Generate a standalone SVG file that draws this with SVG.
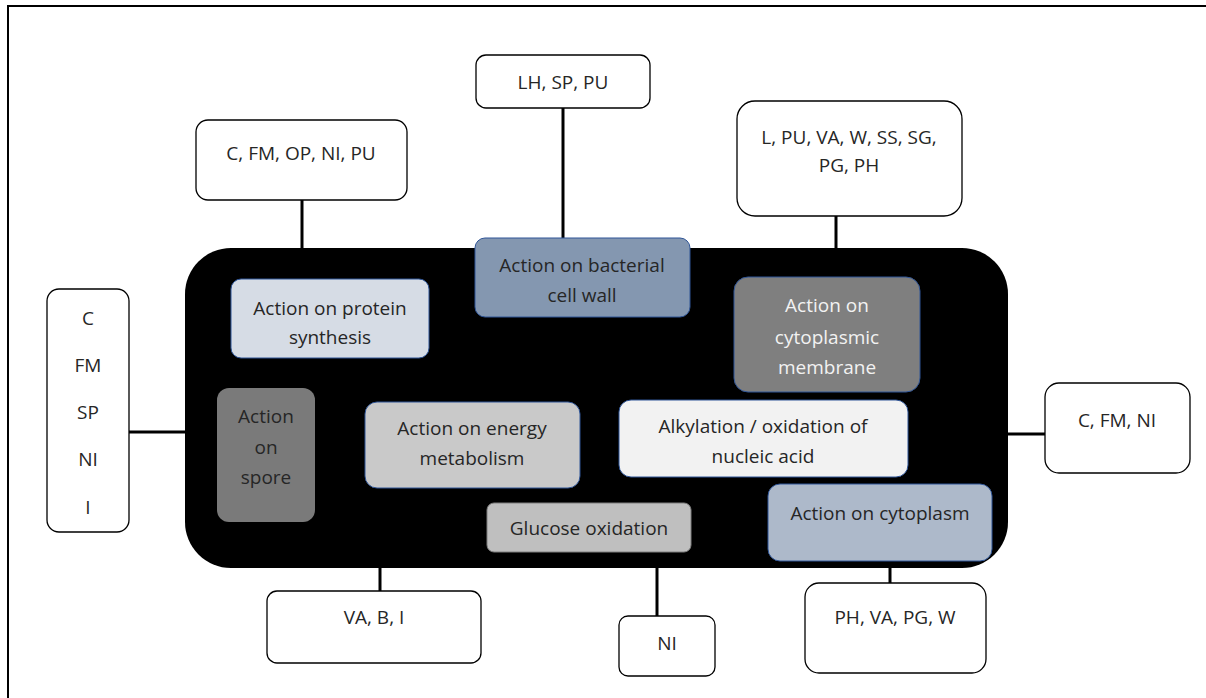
<svg xmlns="http://www.w3.org/2000/svg" width="1206" height="698" viewBox="0 0 1206 698">
<style>
text{font-family:"Open Sans","Liberation Sans",sans-serif;font-size:19px;fill:#262626;text-anchor:middle;dominant-baseline:central}
.out rect{fill:#fff;stroke:#000;stroke-width:1.3}
.in rect{stroke:#2f5597;stroke-width:1}
.conn line{stroke:#000;stroke-width:3}
</style>
<rect x="8" y="6" width="1300" height="800" fill="#fff" stroke="#000" stroke-width="2"/>
<g class="conn">
<line x1="302" y1="200" x2="302" y2="280"/>
<line x1="563" y1="108" x2="563" y2="240"/>
<line x1="836" y1="216" x2="836" y2="278"/>
<line x1="129" y1="432" x2="187" y2="432"/>
<line x1="1006" y1="434" x2="1045" y2="434"/>
<line x1="380" y1="566" x2="380" y2="591"/>
<line x1="657" y1="566" x2="657" y2="616"/>
<line x1="890" y1="560" x2="890" y2="583"/>
</g>
<g id="core"><rect x="185" y="248" width="823" height="320" rx="46" fill="#000"/></g>
<g id="n-protein" class="in"><rect x="231" y="279" width="198" height="79" rx="10" fill="#d6dce5"/><text x="330" y="308">Action on protein</text><text x="330" y="337">synthesis</text></g>
<g id="n-wall" class="in"><rect x="475" y="238" width="215" height="79" rx="10" fill="#8497b0"/><text x="582" y="265">Action on bacterial</text><text x="582" y="295">cell wall</text></g>
<g id="n-membrane" class="in"><rect x="734" y="277" width="186" height="115" rx="14" fill="#7f7f7f"/><text x="827" y="305" style="fill:#f2f2f2">Action on</text><text x="827" y="337" style="fill:#f2f2f2">cytoplasmic</text><text x="827" y="367" style="fill:#f2f2f2">membrane</text></g>
<g id="n-spore"><rect x="217" y="388" width="98" height="134" rx="12" fill="#7a7a7a"/><text x="266" y="416">Action</text><text x="266" y="447">on</text><text x="266" y="477">spore</text></g>
<g id="n-energy" class="in"><rect x="365" y="402" width="215" height="86" rx="12" fill="#c9c9c9"/><text x="472" y="428">Action on energy</text><text x="472" y="458">metabolism</text></g>
<g id="n-alkyl" class="in"><rect x="619" y="400" width="289" height="77" rx="12" fill="#f2f2f2"/><text x="763" y="426">Alkylation / oxidation of</text><text x="763" y="456">nucleic acid</text></g>
<g id="n-glucose"><rect x="487" y="503" width="204" height="49" rx="7" fill="#bfbfbf" stroke="#7f7f7f" stroke-width="1"/><text x="589" y="528">Glucose oxidation</text></g>
<g id="n-cytoplasm" class="in"><rect x="768" y="484" width="224" height="77" rx="12" fill="#adb9ca"/><text x="880" y="513">Action on cytoplasm</text></g>
<g id="o-protein" class="out"><rect x="196" y="120" width="211" height="80" rx="12"/><text x="301" y="153">C, FM, OP, NI, PU</text></g>
<g id="o-wall" class="out"><rect x="476" y="55" width="174" height="53" rx="10"/><text x="563" y="82">LH, SP, PU</text></g>
<g id="o-membrane" class="out"><rect x="737" y="101" width="225" height="115" rx="18"/><text x="849" y="137">L, PU, VA, W, SS, SG,</text><text x="849" y="165">PG, PH</text></g>
<g id="o-spore" class="out"><rect x="47" y="289" width="82" height="243" rx="12"/><text x="88" y="318">C</text><text x="88" y="365">FM</text><text x="88" y="412">SP</text><text x="88" y="459">NI</text><text x="88" y="507">I</text></g>
<g id="o-alkyl" class="out"><rect x="1045" y="383" width="145" height="90" rx="14"/><text x="1117" y="420">C, FM, NI</text></g>
<g id="o-energy" class="out"><rect x="267" y="591" width="214" height="72" rx="10"/><text x="374" y="617">VA, B, I</text></g>
<g id="o-glucose" class="out"><rect x="619" y="616" width="96" height="60" rx="9"/><text x="667" y="643">NI</text></g>
<g id="o-cytoplasm" class="out"><rect x="805" y="583" width="181" height="90" rx="14"/><text x="895" y="617">PH, VA, PG, W</text></g>
</svg>
